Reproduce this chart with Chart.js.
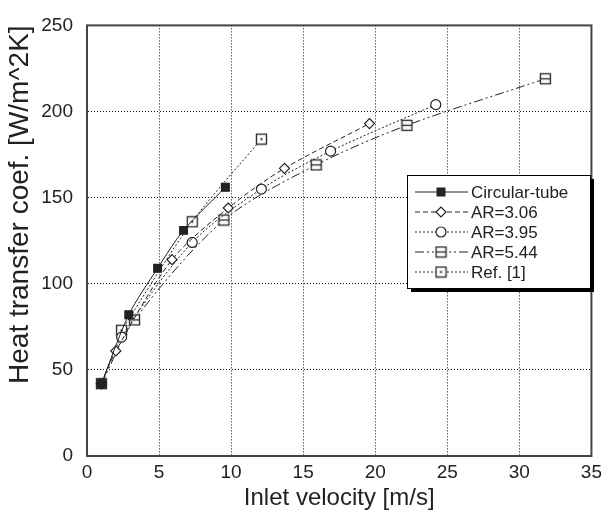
<!DOCTYPE html>
<html>
<head>
<meta charset="utf-8">
<script src="https://cdn.jsdelivr.net/npm/chart.js@4.4.1/dist/chart.umd.min.js"></script>
<style>
  html, body { margin: 0; padding: 0; background: #fff; }
  #wrap { width: 607px; height: 518px; }
</style>
</head>
<body>
<div id="wrap"><canvas id="chart" width="607" height="518"></canvas></div>
<script>
// values
const circularVel = [1.0, 2.9, 4.9, 6.7, 9.6];
const circularH = [42, 82, 109, 131, 156];
const ar306Vel = [1.0, 2.0, 5.9, 9.8, 13.7, 19.6];
const ar306H = [42, 61, 114, 144, 167, 193];
const ar395Vel = [1.0, 2.4, 7.3, 12.1, 16.9, 24.2];
const ar395H = [42, 69, 124, 155, 177, 204];
const ar544Vel = [1.0, 3.3, 9.5, 15.9, 22.2, 31.8];
const ar544H = [42, 79, 137, 169, 192, 219];
const refVel = [2.4, 7.3, 12.1];
const refH = [73, 136, 184];
const xTicks = [0, 5, 10, 15, 20, 25, 30, 35];
const yTicks = [0, 50, 100, 150, 200, 250];

const FONT = "'Liberation Sans', Arial, sans-serif";
const INK = "#222";

function toPoints(xs, ys) {
  return xs.map((x, i) => ({ x: x, y: ys[i] }));
}

// square markers with a line or a dot inside
function boxMarker(inner) {
  const c = document.createElement("canvas");
  c.width = 13;
  c.height = 13;
  const ctx = c.getContext("2d");
  ctx.fillStyle = "#fff";
  ctx.fillRect(1.5, 1.5, 10, 10);
  ctx.strokeStyle = INK;
  ctx.lineWidth = 1.3;
  ctx.strokeRect(1.5, 1.5, 10, 10);
  if (inner === "line") {
    ctx.beginPath();
    ctx.moveTo(1.5, 6.5);
    ctx.lineTo(11.5, 6.5);
    ctx.stroke();
  } else {
    ctx.fillStyle = INK;
    ctx.fillRect(5.5, 5.5, 2, 2);
  }
  return c;
}

const lineMarker = boxMarker("line");
const dotMarker = boxMarker("dot");

function series(label, xs, ys, dash, style, radius, fill) {
  return {
    label: label,
    data: toPoints(xs, ys),
    showLine: true,
    borderColor: INK,
    borderWidth: 1,
    borderDash: dash,
    tension: 0.3,
    pointStyle: style,
    pointRadius: radius,
    pointHoverRadius: radius,
    pointBackgroundColor: fill,
    pointBorderColor: INK,
    pointBorderWidth: 1.2,
  };
}

const frame = {
  id: "frame",
  beforeDatasetsDraw(chart) {
    const a = chart.chartArea;
    const ctx = chart.ctx;
    ctx.save();
    ctx.strokeStyle = "#444";
    ctx.lineWidth = 2;
    ctx.strokeRect(a.left, a.top, a.right - a.left, a.bottom - a.top);
    ctx.restore();
  },
};

const boxLegend = {
  id: "boxLegend",
  afterDraw(chart) {
    const ctx = chart.ctx;
    const left = 407, top = 175, w = 183, h = 113;
    ctx.save();
    ctx.fillStyle = "#000";
    ctx.fillRect(left + 4, top + 4, w, h);
    ctx.fillStyle = "#fff";
    ctx.fillRect(left, top, w, h);
    ctx.strokeStyle = "#000";
    ctx.lineWidth = 1;
    ctx.strokeRect(left + 0.5, top + 0.5, w, h);
    chart.data.datasets.forEach((ds, i) => {
      const y = 192 + i * 20;
      ctx.strokeStyle = INK;
      ctx.lineWidth = 1;
      ctx.setLineDash(ds.borderDash);
      ctx.beginPath();
      ctx.moveTo(415, y);
      ctx.lineTo(468, y);
      ctx.stroke();
      ctx.setLineDash([]);
      ctx.fillStyle = ds.pointBackgroundColor;
      ctx.strokeStyle = INK;
      ctx.lineWidth = 1.2;
      Chart.helpers.drawPoint(ctx, {
        pointStyle: ds.pointStyle,
        radius: ds.pointRadius,
        borderWidth: 1.2,
        rotation: 0,
      }, 441, y);
      ctx.fillStyle = INK;
      ctx.font = "17px " + FONT;
      ctx.textBaseline = "middle";
      ctx.textAlign = "left";
      ctx.fillText(ds.label, 471, y + 1);
    });
    ctx.restore();
  },
};

const hideEdge = (lo, hi) => (c) =>
  (c.tick.value === lo || c.tick.value === hi ? "rgba(0,0,0,0)" : "#111");

new Chart(document.getElementById("chart"), {
  type: "scatter",
  data: {
    datasets: [
      series("Circular-tube", circularVel, circularH, [], "rect", 5.5, INK),
      series("AR=3.06", ar306Vel, ar306H, [5, 3], "rectRot", 5, "#fff"),
      series("AR=3.95", ar395Vel, ar395H, [2, 2], "circle", 5, "#fff"),
      series("AR=5.44", ar544Vel, ar544H, [9, 3, 2, 3, 2, 3], lineMarker, 6, "#fff"),
      series("Ref. [1]", refVel, refH, [2, 2], dotMarker, 6, "#fff"),
    ],
  },
  options: {
    responsive: false,
    animation: false,
    layout: {
      padding: { top: 16, right: 9, left: 0, bottom: 0 },
    },
    plugins: {
      legend: { display: false },
      tooltip: { enabled: false },
    },
    scales: {
      x: {
        type: "linear",
        min: 0,
        max: 35,
        afterFit: (s) => { s.height = 62; },
        afterBuildTicks: (s) => { s.ticks = xTicks.map((v) => ({ value: v })); },
        border: { display: true, color: "rgba(0,0,0,0)", dash: [1, 2] },
        grid: {
          color: hideEdge(0, 35),
          lineWidth: 1,
          drawTicks: false,
          borderDash: [1, 2],
        },
        ticks: {
          color: INK,
          padding: 5,
          font: { family: FONT, size: 19 },
        },
        title: {
          display: true,
          text: "Inlet velocity [m/s]",
          color: INK,
          font: { family: FONT, size: 24 },
          padding: { top: 0, bottom: 5 },
        },
      },
      y: {
        type: "linear",
        min: 0,
        max: 250,
        afterFit: (s) => { s.width = 87; },
        afterBuildTicks: (s) => { s.ticks = yTicks.map((v) => ({ value: v })); },
        border: { display: true, color: "rgba(0,0,0,0)", dash: [1, 2] },
        grid: {
          color: hideEdge(0, 250),
          lineWidth: 1,
          drawTicks: false,
          borderDash: [1, 2],
        },
        ticks: {
          color: INK,
          padding: 14,
          font: { family: FONT, size: 19 },
        },
        title: {
          display: true,
          text: "Heat transfer coef. [W/m^2K]",
          align: "end",
          color: INK,
          font: { family: FONT, size: 28 },
          padding: { top: 3, bottom: 0 },
        },
      },
    },
  },
  plugins: [frame, boxLegend],
});
</script>
</body>
</html>
